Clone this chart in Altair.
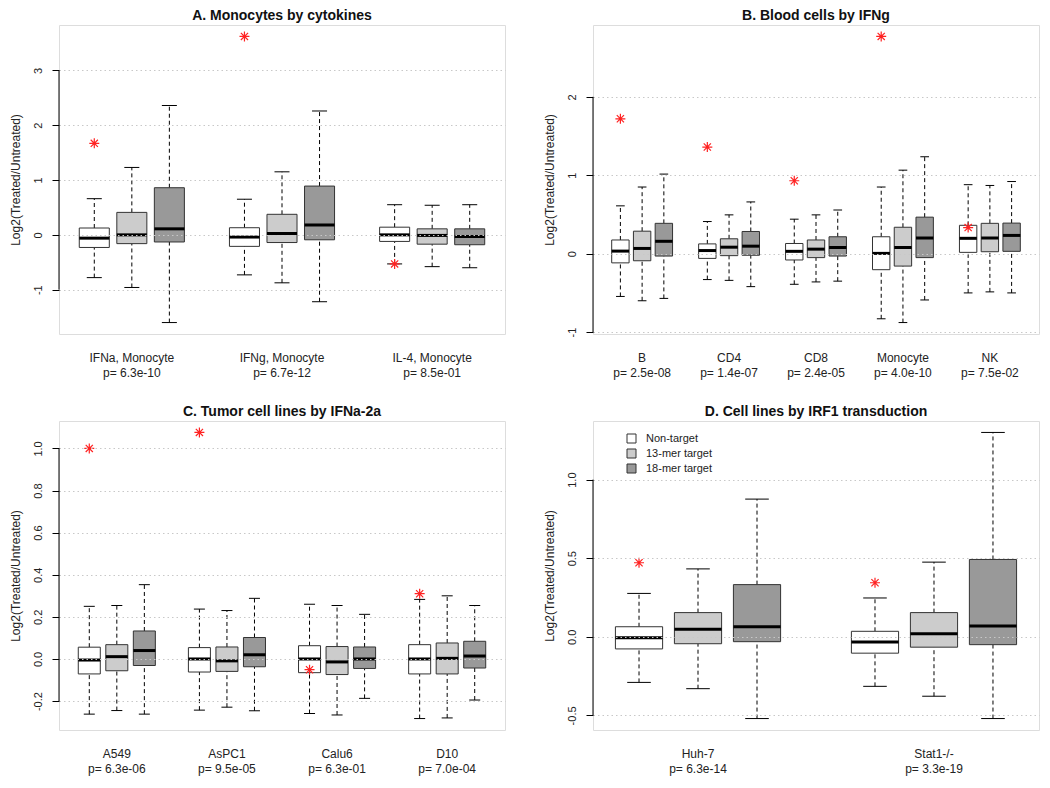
import altair as alt
import pandas as pd

SERIES = ["Non-target", "13-mer target", "18-mer target"]
SERIES_FILL = ["#ffffff", "#cccccc", "#999999"]
YTITLE = "Log2(Treated/Untreated)"

# ---------- Panel A ----------
A_title = "A. Monocytes by cytokines"
A_groups = ["IFNa, Monocyte", "IFNg, Monocyte", "IL-4, Monocyte"]
A_pvals = ["p= 6.3e-10", "p= 6.7e-12", "p= 8.5e-01"]
A_lo = [-0.78, -0.96, -1.60, -0.73, -0.875, -1.22, -0.53, -0.58, -0.60]
A_q1 = [-0.23, -0.16, -0.13, -0.21, -0.14, -0.09, -0.12, -0.17, -0.18]
A_med = [-0.06, 0.0, 0.11, -0.04, 0.025, 0.18, 0.0, -0.01, -0.03]
A_q3 = [0.125, 0.41, 0.86, 0.13, 0.375, 0.89, 0.14, 0.11, 0.11]
A_hi = [0.66, 1.23, 2.36, 0.65, 1.15, 2.26, 0.55, 0.54, 0.55]
A_star = [1.67, 3.62, -0.53]
A_ticks = [-1, 0, 1, 2, 3]

# ---------- Panel B ----------
B_title = "B. Blood cells by IFNg"
B_groups = ["B", "CD4", "CD8", "Monocyte", "NK"]
B_pvals = ["p= 2.5e-08", "p= 1.4e-07", "p= 2.4e-05", "p= 4.0e-10", "p= 7.5e-02"]
B_lo = [-0.545, -0.60, -0.57, -0.33, -0.34, -0.42, -0.39, -0.36, -0.35,
        -0.83, -0.878, -0.59, -0.50, -0.487, -0.50]
B_q1 = [-0.117, -0.09, -0.03, -0.06, -0.025, -0.02, -0.08, -0.05, -0.03,
        -0.204, -0.158, -0.05, 0.017, 0.025, 0.03]
B_med = [0.033, 0.067, 0.158, 0.04, 0.083, 0.096, 0.03, 0.058, 0.079,
         0.004, 0.079, 0.20, 0.196, 0.20, 0.233]
B_q3 = [0.175, 0.287, 0.387, 0.125, 0.19, 0.283, 0.13, 0.175, 0.216,
        0.216, 0.337, 0.466, 0.362, 0.387, 0.39]
B_hi = [0.61, 0.85, 1.015, 0.41, 0.495, 0.66, 0.44, 0.495, 0.557,
        0.85, 1.065, 1.236, 0.88, 0.87, 0.92]
B_star = [1.72, 1.36, 0.93, 2.77, 0.333]
B_ticks = [-1, 0, 1, 2]

# ---------- Panel C ----------
C_title = "C. Tumor cell lines by IFNa-2a"
C_groups = ["A549", "AsPC1", "Calu6", "D10"]
C_pvals = ["p= 6.3e-06", "p= 9.5e-05", "p= 6.3e-01", "p= 7.0e-04"]
C_lo = [-0.262, -0.245, -0.262, -0.243, -0.229, -0.246, -0.259, -0.266, -0.187,
        -0.283, -0.28, -0.195]
C_q1 = [-0.071, -0.056, -0.031, -0.062, -0.059, -0.037, -0.065, -0.074, -0.045,
        -0.071, -0.071, -0.043]
C_med = [-0.005, 0.011, 0.04, 0.0, -0.009, 0.02, 0.0, -0.014, 0.0, 0.0, 0.003, 0.014]
C_q3 = [0.056, 0.068, 0.133, 0.054, 0.057, 0.102, 0.063, 0.059, 0.057,
        0.068, 0.076, 0.084]
C_hi = [0.25, 0.254, 0.353, 0.237, 0.23, 0.288, 0.26, 0.254, 0.212,
        0.283, 0.30, 0.254]
C_star = [1.0, 1.076, -0.051, 0.31]
C_ticks = [-0.2, 0.0, 0.2, 0.4, 0.6, 0.8, 1.0]

# ---------- Panel D ----------
D_title = "D. Cell lines by IRF1 transduction"
D_groups = ["Huh-7", "Stat1-/-"]
D_pvals = ["p= 6.3e-14", "p= 3.3e-19"]
D_lo = [-0.29, -0.33, -0.52, -0.315, -0.378, -0.52]
D_q1 = [-0.077, -0.044, -0.031, -0.104, -0.066, -0.05]
D_med = [-0.006, 0.048, 0.064, -0.033, 0.019, 0.068]
D_q3 = [0.064, 0.154, 0.332, 0.035, 0.154, 0.492]
D_hi = [0.276, 0.432, 0.876, 0.247, 0.475, 1.30]
D_star = [0.471, 0.344]
D_ticks = [-0.5, 0.0, 0.5, 1.0]

ASTERISK = "M-1,0L1,0M0,-1L0,1M-0.72,-0.72L0.72,0.72M-0.72,0.72L0.72,-0.72"
FONT = "Liberation Sans"
W = 446
H = 309


def panel(title, groups, pvals, lo, q1, med, q3, hi, star, ticks, fmt, legend):
    rows = []
    for g in range(len(groups)):
        for s in range(3):
            i = g * 3 + s
            rows.append(dict(series=SERIES[s], pos=g * 4 + s + 1, lo=lo[i], q1=q1[i],
                             med=med[i], q3=q3[i], hi=hi[i]))
    boxes = pd.DataFrame(rows)
    labels = pd.DataFrame(dict(center=[g * 4 + 2 for g in range(len(groups))],
                               group=groups, pval=pvals))
    stars = pd.DataFrame(dict(pos=[g * 4 + 1 for g in range(len(groups))], val=star))
    axdf = pd.DataFrame(dict(t0=[ticks[0]], t1=[ticks[-1]]))

    n = 4 * len(groups) - 1
    xdom = [0.5 - 0.04 * n, n + 0.5 + 0.04 * n]
    vmin = min(min(lo), min(star))
    vmax = max(max(hi), max(star))
    r = vmax - vmin
    ydom = [vmin - 0.04 * r, vmax + 0.04 * r]
    xs = alt.Scale(domain=xdom, nice=False, zero=False)
    ys = alt.Scale(domain=ydom, nice=False, zero=False)
    yaxis = alt.Axis(
        values=ticks, format=fmt, labelExpr="replace(datum.label, '\u2212', '-')",
        grid=True, gridColor="#c8c8c8", gridDash=[1.5, 3], gridWidth=1,
        domain=False, ticks=True, tickColor="#000000", tickSize=7, tickWidth=1,
        labelAngle=270, labelAlign="center", labelBaseline="bottom", labelPadding=9,
        labelFontSize=11, labelColor="#222222", labelFont=FONT,
        title=YTITLE, titleFontSize=12, titleFontWeight="normal", titleColor="#222222",
        titleFont=FONT, titleX=-44, titleY=H / 2, titleAngle=270, titleAlign="center",
        titleBaseline="middle", zindex=1)

    def X(f):
        return alt.X(f"{f}:Q", scale=xs, axis=None)

    def Y(f):
        return alt.Y(f"{f}:Q", scale=ys, axis=yaxis)

    base = alt.Chart(boxes).transform_calculate(
        xl="datum.pos - 0.4", xr="datum.pos + 0.4",
        cl="datum.pos - 0.2", cr="datum.pos + 0.2")

    w_up = base.mark_rule(color="#000000", strokeDash=[4, 3], strokeWidth=1).encode(
        x=X("pos"), y=Y("q3"), y2="hi:Q")
    w_dn = base.mark_rule(color="#000000", strokeDash=[4, 3], strokeWidth=1).encode(
        x=X("pos"), y=Y("lo"), y2="q1:Q")
    c_hi = base.mark_rule(color="#000000", strokeWidth=1).encode(
        x=X("cl"), x2="cr:Q", y=Y("hi"))
    c_lo = base.mark_rule(color="#000000", strokeWidth=1).encode(
        x=X("cl"), x2="cr:Q", y=Y("lo"))
    if legend:
        leg = alt.Legend(orient="none", legendX=33, legendY=12, title=None,
                         symbolType="square", symbolSize=81, symbolStrokeColor="#333333",
                         symbolStrokeWidth=1, labelFontSize=11, labelFont=FONT,
                         labelColor="#222222", labelOffset=9, rowPadding=2, padding=0)
    else:
        leg = None
    box = base.mark_rect(stroke="#333333", strokeWidth=1).encode(
        x=X("xl"), x2="xr:Q", y=Y("q1"), y2="q3:Q",
        fill=alt.Fill("series:N", scale=alt.Scale(domain=SERIES, range=SERIES_FILL),
                      legend=leg))
    medl = base.mark_rule(color="#000000", strokeWidth=3).encode(
        x=X("xl"), x2="xr:Q", y=Y("med"))
    st = alt.Chart(stars).mark_point(shape=ASTERISK, size=100, color="#ff2222",
                                     strokeWidth=1.2, filled=False, opacity=1).encode(
        x=X("pos"), y=Y("val"))
    axl = alt.Chart(axdf).mark_rule(color="#000000", strokeWidth=1).encode(
        x=alt.value(0), y=Y("t0"), y2="t1:Q")
    lab1 = alt.Chart(labels).mark_text(fontSize=12, font=FONT, color="#222222").encode(
        x=X("center"), y=alt.value(H + 24), text="group:N")
    lab2 = alt.Chart(labels).mark_text(fontSize=12, font=FONT, color="#222222").encode(
        x=X("center"), y=alt.value(H + 39), text="pval:N")

    return alt.layer(w_up, w_dn, c_hi, c_lo, box, medl, st, axl, lab1, lab2).properties(
        width=W, height=H,
        title=alt.TitleParams(title, fontSize=14, fontWeight="bold", font=FONT,
                              color="#111111", offset=2, anchor="middle"))


pA = panel(A_title, A_groups, A_pvals, A_lo, A_q1, A_med, A_q3, A_hi, A_star, A_ticks, "d", False)
pB = panel(B_title, B_groups, B_pvals, B_lo, B_q1, B_med, B_q3, B_hi, B_star, B_ticks, "d", False)
pC = panel(C_title, C_groups, C_pvals, C_lo, C_q1, C_med, C_q3, C_hi, C_star, C_ticks, ".1f", False)
pD = panel(D_title, D_groups, D_pvals, D_lo, D_q1, D_med, D_q3, D_hi, D_star, D_ticks, ".1f", True)

chart = alt.concat(pA, pB, pC, pD, columns=2, spacing={"row": 87, "column": 88},
                   bounds="flush").resolve_scale(fill="independent").properties(
    padding=0).configure_view(stroke="#999999", strokeWidth=2).configure(font=FONT)

chart.save("out.html", embed_options={"renderer": "svg", "actions": False})
